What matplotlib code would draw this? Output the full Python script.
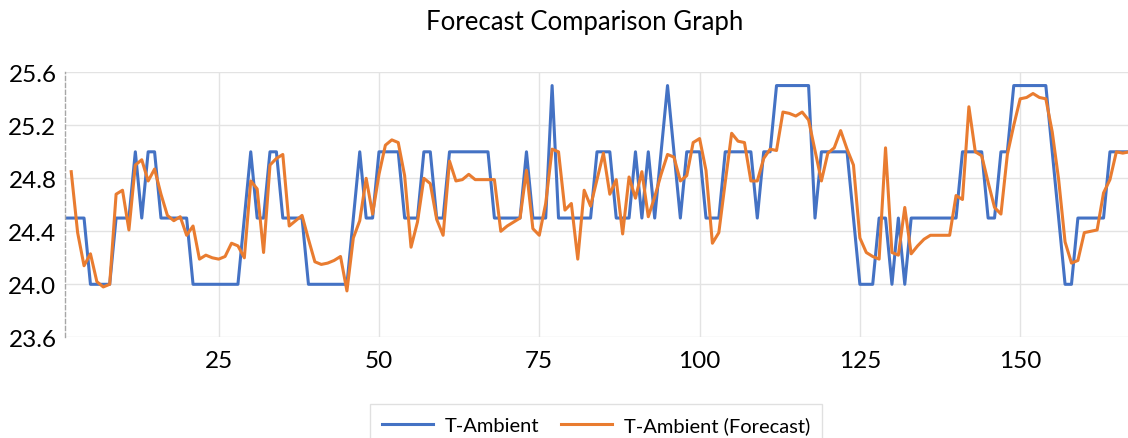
import numpy as np
import matplotlib.pyplot as plt

# hourly readings, index 1..167
hours = list(range(1, 168))

t_ambient = [
    24.5, 24.5, 24.5, 24.5, 24.0, 24.0, 24.0, 24.0, 24.5, 24.5,
    24.5, 25.0, 24.5, 25.0, 25.0, 24.5, 24.5, 24.5, 24.5, 24.5,
    24.0, 24.0, 24.0, 24.0, 24.0, 24.0, 24.0, 24.0, 24.5, 25.0,
    24.5, 24.5, 25.0, 25.0, 24.5, 24.5, 24.5, 24.5, 24.0, 24.0,
    24.0, 24.0, 24.0, 24.0, 24.0, 24.5, 25.0, 24.5, 24.5, 25.0,
    25.0, 25.0, 25.0, 24.5, 24.5, 24.5, 25.0, 25.0, 24.5, 24.5,
    25.0, 25.0, 25.0, 25.0, 25.0, 25.0, 25.0, 24.5, 24.5, 24.5,
    24.5, 24.5, 25.0, 24.5, 24.5, 24.5, 25.5, 24.5, 24.5, 24.5,
    24.5, 24.5, 24.5, 25.0, 25.0, 25.0, 24.5, 24.5, 24.5, 25.0,
    24.5, 25.0, 24.5, 25.0, 25.5, 25.0, 24.5, 25.0, 25.0, 25.0,
    24.5, 24.5, 24.5, 25.0, 25.0, 25.0, 25.0, 25.0, 24.5, 25.0,
    25.0, 25.5, 25.5, 25.5, 25.5, 25.5, 25.5, 24.5, 25.0, 25.0,
    25.0, 25.0, 25.0, 24.5, 24.0, 24.0, 24.0, 24.5, 24.5, 24.0,
    24.5, 24.0, 24.5, 24.5, 24.5, 24.5, 24.5, 24.5, 24.5, 24.5,
    25.0, 25.0, 25.0, 25.0, 24.5, 24.5, 25.0, 25.0, 25.5, 25.5,
    25.5, 25.5, 25.5, 25.5, 25.0, 24.5, 24.0, 24.0, 24.5, 24.5,
    24.5, 24.5, 24.5, 25.0, 25.0, 25.0, 25.0,
]

# forecast has no value for the first hour
t_forecast = [
    np.nan, 24.85, 24.39, 24.14, 24.23, 24.02, 23.98, 24.00, 24.68, 24.71,
    24.41, 24.90, 24.94, 24.78, 24.87, 24.68, 24.52, 24.48, 24.51, 24.37,
    24.44, 24.19, 24.22, 24.20, 24.19, 24.21, 24.31, 24.29, 24.20, 24.78,
    24.72, 24.24, 24.90, 24.95, 24.98, 24.44, 24.48, 24.52, 24.34, 24.17,
    24.15, 24.16, 24.18, 24.21, 23.95, 24.35, 24.48, 24.80, 24.53, 24.83,
    25.05, 25.09, 25.07, 24.82, 24.28, 24.47, 24.80, 24.76, 24.49, 24.37,
    24.93, 24.78, 24.79, 24.83, 24.79, 24.79, 24.79, 24.79, 24.40, 24.44,
    24.47, 24.50, 24.86, 24.42, 24.37, 24.61, 25.02, 25.00, 24.56, 24.61,
    24.19, 24.71, 24.59, 24.79, 24.99, 24.68, 24.79, 24.38, 24.81, 24.65,
    24.85, 24.51, 24.66, 24.83, 24.98, 24.96, 24.78, 24.82, 25.07, 25.10,
    24.86, 24.31, 24.39, 24.77, 25.14, 25.08, 25.07, 24.78, 24.78, 24.95,
    25.02, 25.01, 25.30, 25.29, 25.27, 25.30, 25.24, 25.01, 24.78, 24.99,
    25.03, 25.16, 25.02, 24.90, 24.35, 24.24, 24.21, 24.19, 25.03, 24.24,
    24.22, 24.58, 24.23, 24.29, 24.34, 24.37, 24.37, 24.37, 24.37, 24.67,
    24.64, 25.34, 25.00, 24.97, 24.77, 24.58, 24.53, 24.98, 25.20, 25.40,
    25.41, 25.44, 25.41, 25.40, 25.15, 24.79, 24.32, 24.16, 24.18, 24.39,
    24.40, 24.41, 24.69, 24.79, 25.00, 24.99, 25.00,
]

y_ticks = [23.6, 24.0, 24.4, 24.8, 25.2, 25.6]
x_ticks = [25, 50, 75, 100, 125, 150]

plt.rcParams['font.family'] = ['Lato', 'DejaVu Sans']


def plot_forecast(hours, actual, forecast):
    fig = plt.figure(figsize=(11.28, 4.39), dpi=100)
    ax = fig.add_axes([0.05745, 0.2294, 0.9436, 0.6036])

    ax.plot(hours, actual, color='#4472C4', linewidth=2.2, label='T-Ambient')
    ax.plot(hours, forecast, color='#E97C30', linewidth=2.2, label='T-Ambient (Forecast)')

    ax.set_xlim(1, 167)
    ax.set_ylim(23.6, 25.6)
    ax.set_yticks(y_ticks)
    ax.set_yticklabels([f'{v:.1f}' for v in y_ticks])
    ax.set_xticks(x_ticks)

    ax.grid(True, color='#e3e3e3', linewidth=1.0)
    ax.set_axisbelow(True)
    ax.tick_params(length=0, labelsize=17.5, colors='#000000')
    ax.tick_params(axis='y', pad=6)
    ax.tick_params(axis='x', pad=9)

    for side in ['top', 'right', 'bottom']:
        ax.spines[side].set_visible(False)
    ax.spines['left'].set_color('#a6a6a6')
    ax.spines['left'].set_linestyle((0, (3, 2)))
    ax.spines['left'].set_linewidth(1.0)

    fig.text(0.5186, 0.948, 'Forecast Comparison Graph', ha='center', va='center', fontsize=18.5)

    # legend box runs past the bottom edge of the figure
    leg = fig.legend(loc='upper center', bbox_to_anchor=(0.5284, 1 - 405 / 439), ncol=2,
                     fontsize=14.5, frameon=True, fancybox=False, handlelength=2.5,
                     handletextpad=0.6, columnspacing=1.1, borderpad=0.6, borderaxespad=0.0)
    leg.get_frame().set_edgecolor('#d9d9d9')
    leg.get_frame().set_linewidth(1.0)

    fig.savefig('out.png', dpi=100)


def main():
    plot_forecast(hours, t_ambient, t_forecast)


if __name__ == "__main__":
    main()
